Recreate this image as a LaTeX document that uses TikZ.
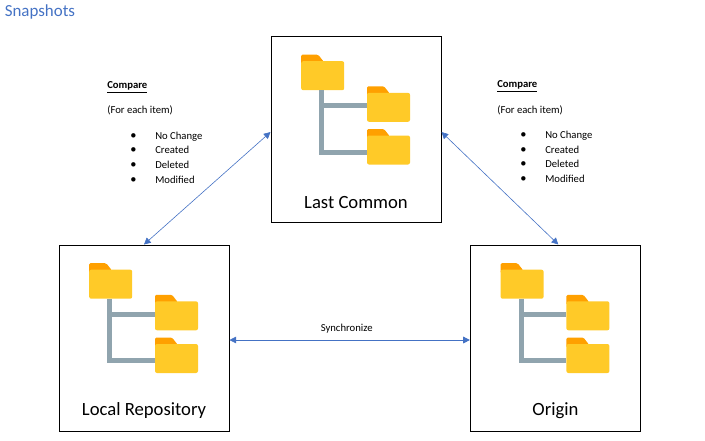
\documentclass[tikz,border=0pt]{standalone}
\usepackage{fontspec}
\setmainfont{Carlito}
\usepackage{xcolor}
\definecolor{linkblue}{HTML}{4472C4}
\definecolor{folderfront}{HTML}{FFCA28}
\definecolor{foldertab}{HTML}{FFA000}
\definecolor{branchgrey}{HTML}{90A4AE}
\usetikzlibrary{arrows.meta, positioning}
\tikzset{
    panel/.style={
        draw, line width=0.75pt,
        inner sep=0pt,
        minimum width=127.5pt,
        minimum height=139.5pt
    },
    caption/.style={font=\fontsize{14}{17}\selectfont, inner sep=0pt},
    note/.style={font=\fontsize{8}{10}\selectfont, text=black, anchor=west, inner sep=0pt},
    link/.style={
        linkblue, line width=0.45pt,
        {Triangle[length=5pt,width=5pt]}-{Triangle[length=5pt,width=5pt]},
    },
    folder/.style={
        fill=folderfront, rounded corners=1.5pt,
        inner sep=0pt,
        minimum width=32.25pt,
        minimum height=21.75pt
    },
    branch/.style={branchgrey, line width=3.75pt},
    foldertree/.pic={
        \foreach \n/\x/\y in {root/52.2/39.7, one/118/71.3, two/118/114}{
            \fill[foldertab, rounded corners=1pt] ({\x-21.5},{\y-11}) |- ({\x-4.5},{\y-21})
                -- ({\x+1},{\y-14}) -- ({\x+1},{\y-11}) -- cycle;
            \node[folder] (-\n) at (\x,\y) {};
        }
        \draw[branch] ([xshift=-0.8pt]-root.south) |- ([yshift=1pt]-one.west);
        \draw[branch] ([xshift=-0.8pt]-root.south) |- ([yshift=-1.5pt]-two.west);
    },
}
\begin{document}
\begin{tikzpicture}[x=0.75pt, y=-0.75pt]
    \useasboundingbox (0,0) rectangle (705,440);

    \node[font=\fontsize{12.7}{15}\selectfont, text=linkblue, anchor=west, inner sep=0pt] (title) at (4.5,11.5) {Snapshots};

    \node[panel] (last) at (356,129.5) {};
    \node[panel] (local) at (144,338) {};
    \node[panel, right=180.3pt of local] (origin) {};

    \pic (lasttree) at (last.north west) {foldertree};
    \pic (localtree) at (local.north west) {foldertree};
    \pic (origintree) at (origin.north west) {foldertree};

    \node[caption] (lastcap) at ([yshift=15.5pt]last.south) {Last Common};
    \node[caption] (localcap) at ([yshift=15.5pt]local.south) {Local Repository};
    \node[caption] (origincap) at ([yshift=15.5pt]origin.south) {Origin};

    % left notes
    \node[note] (lefthead) at (107,87.5) {\underline{\textbf{Compare}}};
    \node[note] (leftsub) at (107,110) {(For each item)};
    \foreach \i/\t/\y in {a/No Change/136.3, b/Created/150.3, c/Deleted/165.3, d/Modified/179.8}{
        \node[note] (leftdot\i) at (130.3,\y) {$\bullet$};
        \node[note] (left\i) at (155,\y) {\t};
    }

    % right notes
    \node[note] (righthead) at (497,86.5) {\underline{\textbf{Compare}}};
    \node[note] (rightsub) at (497,110) {(For each item)};
    \foreach \i/\t/\y in {a/No Change/135.3, b/Created/149.8, c/Deleted/164.3, d/Modified/178.8}{
        \node[note] (rightdot\i) at (520.3,\y) {$\bullet$};
        \node[note] (right\i) at (545,\y) {\t};
    }

    \draw[link] (local.north) -- ([yshift=-1.9pt]last.west);
    \draw[link] ([yshift=-1.9pt]last.east) -- ([xshift=2.2pt]origin.north);
    \draw[link] ([yshift=-1.5pt]local.east) -- node[note, anchor=south, xshift=-2.25pt, yshift=4.5pt] (synclabel) {Synchronize} ([yshift=-1.5pt]origin.west);
\end{tikzpicture}
\end{document}
